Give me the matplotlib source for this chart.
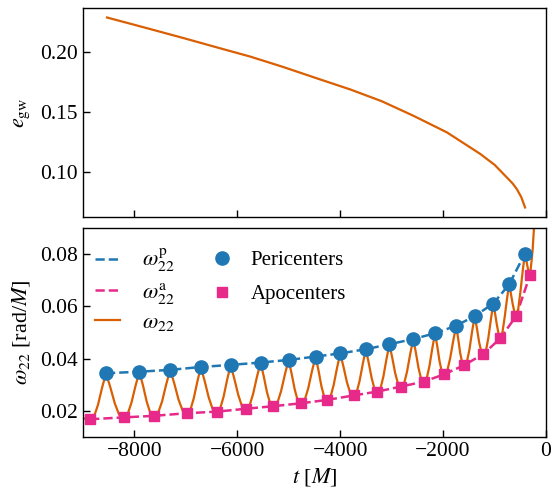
import matplotlib
matplotlib.use('Agg')
import matplotlib.pyplot as plt

plt.rcParams['font.family'] = ['Liberation Serif', 'DejaVu Serif']
plt.rcParams['mathtext.fontset'] = 'stix'
plt.rcParams['axes.unicode_minus'] = True

# eccentricity (top panel)
t_ecc = [-8533, -7800, -7035, -6400, -5742, -5100, -4451, -3800, -3190,
         -2572, -1924, -1279, -1000, -762, -650, -568, -480, -407]
e_gw = [0.2289, 0.2205, 0.2116, 0.2040, 0.1962, 0.1875, 0.1781, 0.1688,
        0.1590, 0.1468, 0.1330, 0.1151, 0.1060, 0.0955, 0.0905, 0.0858,
        0.0790, 0.0704]

# pericenters / apocenters
t_peri = [-8553, -7904, -7304, -6710, -6130, -5549, -5003, -4478, -4000,
          -3502, -3044, -2580, -2157, -1747, -1386, -1024, -717, -410]
w_peri = [0.0344, 0.0350, 0.0357, 0.0368, 0.0376, 0.0385, 0.0395, 0.0408,
          0.0420, 0.0436, 0.0455, 0.0475, 0.0497, 0.0526, 0.0563, 0.0611,
          0.0684, 0.0802]
t_apo = [-8861, -8212, -7618, -6983, -6403, -5836, -5297, -4765, -4253,
         -3741, -3276, -2819, -2375, -1980, -1590, -1215, -887, -580, -310]
w_apo = [0.0168, 0.0175, 0.0181, 0.0191, 0.0197, 0.0208, 0.0218, 0.0229,
         0.0242, 0.0259, 0.0274, 0.0293, 0.0312, 0.0340, 0.0375, 0.0418,
         0.0478, 0.0563, 0.0720]

# omega_22 waveform frequency
t_w22 = [-9000, -8930, -8861, -8784, -8707, -8630, -8553,
         -8468, -8382, -8297, -8212, -8135, -8058, -7981, -7904,
         -7832, -7761, -7690, -7618, -7540, -7461, -7383, -7304,
         -7224, -7144, -7063, -6983, -6915, -6847, -6778, -6710,
         -6633, -6557, -6480, -6403, -6335, -6267, -6198, -6130,
         -6057, -5983, -5910, -5836, -5764, -5693, -5621, -5549,
         -5486, -5423, -5360, -5297, -5224, -5150, -5077, -5003,
         -4944, -4884, -4825, -4765, -4693, -4622, -4550, -4478,
         -4422, -4366, -4309, -4253, -4190, -4127, -4063, -4000,
         -3935, -3871, -3806, -3741, -3681, -3622, -3562, -3502,
         -3446, -3389, -3333, -3276, -3218, -3160, -3102, -3044,
         -2988, -2932, -2875, -2819, -2759, -2700, -2640, -2580,
         -2529, -2478, -2426, -2375, -2320, -2266, -2211, -2157,
         -2113, -2069, -2024, -1980, -1922, -1864, -1805, -1747,
         -1708, -1669, -1629, -1590, -1539, -1488, -1437, -1386,
         -1343, -1301, -1258, -1215, -1167, -1120, -1072, -1024,
         -990, -956, -921, -887, -845, -802, -760, -717,
         -683, -649, -614, -580, -538, -495, -453, -410,
         -385, -360, -335, -310, -285, -260, -233, -215]
w22 = [0.0172, 0.0169, 0.0168, 0.0179, 0.0224, 0.0288, 0.0344,
       0.0290, 0.0229, 0.0185, 0.0175, 0.0186, 0.0231, 0.0294, 0.0350,
       0.0296, 0.0235, 0.0191, 0.0181, 0.0192, 0.0237, 0.0301, 0.0357,
       0.0304, 0.0244, 0.0201, 0.0191, 0.0202, 0.0248, 0.0311, 0.0368,
       0.0313, 0.0252, 0.0207, 0.0197, 0.0208, 0.0254, 0.0319, 0.0376,
       0.0322, 0.0262, 0.0218, 0.0208, 0.0219, 0.0265, 0.0328, 0.0385,
       0.0332, 0.0271, 0.0228, 0.0218, 0.0229, 0.0275, 0.0338, 0.0395,
       0.0342, 0.0282, 0.0239, 0.0229, 0.0240, 0.0286, 0.0351, 0.0408,
       0.0355, 0.0295, 0.0252, 0.0242, 0.0253, 0.0299, 0.0363, 0.0420,
       0.0368, 0.0311, 0.0269, 0.0259, 0.0270, 0.0316, 0.0379, 0.0436,
       0.0384, 0.0326, 0.0284, 0.0274, 0.0285, 0.0332, 0.0397, 0.0455,
       0.0403, 0.0345, 0.0303, 0.0293, 0.0304, 0.0351, 0.0417, 0.0475,
       0.0423, 0.0364, 0.0322, 0.0312, 0.0323, 0.0371, 0.0438, 0.0497,
       0.0447, 0.0390, 0.0349, 0.0340, 0.0351, 0.0400, 0.0466, 0.0526,
       0.0478, 0.0423, 0.0384, 0.0375, 0.0386, 0.0435, 0.0503, 0.0563,
       0.0517, 0.0464, 0.0427, 0.0418, 0.0430, 0.0480, 0.0549, 0.0611,
       0.0574, 0.0531, 0.0494, 0.0478, 0.0503, 0.0560, 0.0626, 0.0684,
       0.0650, 0.0611, 0.0578, 0.0563, 0.0592, 0.0659, 0.0735, 0.0802,
       0.0779, 0.0753, 0.0730, 0.0720, 0.0765, 0.0815, 0.0900, 0.0960]

c_orange = '#d95f02'
c_blue = '#1f77b4'
c_pink = '#e7298a'

fig, (ax1, ax2) = plt.subplots(2, 1, sharex=True, figsize=(5.51, 4.91), dpi=100)
fig.subplots_adjust(left=0.1506, right=0.9909, top=0.9837, bottom=0.110, hspace=0.053)

ax1.plot(t_ecc, e_gw, color=c_orange, lw=1.6)
ax1.set_ylabel(r'$e_{\mathrm{gw}}$', fontsize=16)
ax1.set_yticks([0.10, 0.15, 0.20])

l1, = ax2.plot(t_peri, w_peri, '--', color=c_blue, lw=1.8, label=r'$\omega_{22}^{\mathrm{p}}$')
l2, = ax2.plot(t_apo, w_apo, '--', color=c_pink, lw=1.8, label=r'$\omega_{22}^{\mathrm{a}}$')
l3, = ax2.plot(t_w22, w22, color=c_orange, lw=1.6, label=r'$\omega_{22}$')
m1, = ax2.plot(t_peri, w_peri, 'o', color=c_blue, ms=9.5, ls='none', label='Pericenters')
m2, = ax2.plot(t_apo, w_apo, 's', color=c_pink, ms=7, ls='none', label='Apocenters')

ax2.set_xlim(-9000, 0)
ax2.set_ylim(0.01, 0.09)
ax2.set_yticks([0.02, 0.04, 0.06, 0.08])
ax2.set_xticks([-8000, -6000, -4000, -2000, 0])
ax2.set_xlabel(r'$t$ [$M$]', fontsize=16)
ax2.set_ylabel(r'$\omega_{22}$ [rad/$M$]', fontsize=16)

leg1 = ax2.legend(handles=[l1, l2, l3], loc='upper left', frameon=False,
                  fontsize=16, handlelength=1.1, borderaxespad=0.2,
                  labelspacing=0.3, handletextpad=1.0,
                  bbox_to_anchor=(-0.002, 0.972))
ax2.add_artist(leg1)
ax2.legend(handles=[m1, m2], loc='upper left', frameon=False, fontsize=15,
           bbox_to_anchor=(0.2516, 0.952), borderaxespad=0.2, labelspacing=0.69,
           handlelength=1.0, handletextpad=0.85)

for ax in (ax1, ax2):
    ax.tick_params(direction='in', length=5, width=1, labelsize=15.5)
    for s in ax.spines.values():
        s.set_linewidth(1.0)
    ax.yaxis.set_label_coords(-0.11, 0.5)

fig.savefig('out.png', dpi=100)
